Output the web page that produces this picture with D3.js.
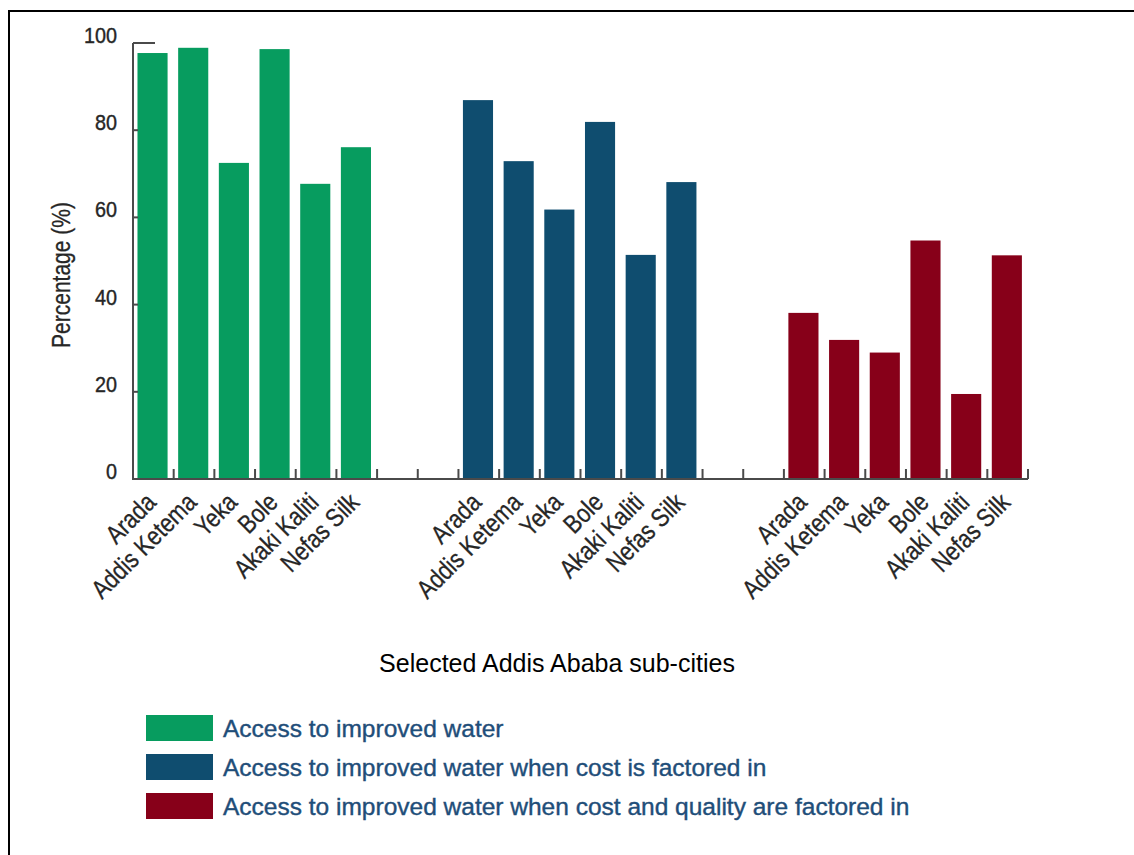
<!DOCTYPE html>
<html>
<head>
<meta charset="utf-8">
<script src="https://cdn.jsdelivr.net/npm/d3@7"></script>
<style>
  body { margin: 0; background: #fff; }
  text { font-family: 'Liberation Sans', Arial, sans-serif; }
</style>
</head>
<body>
<svg id="chart" width="1134" height="855"></svg>
<script>
// sub-cities shown in every group
var subCities = ['Arada', 'Addis Ketema', 'Yeka', 'Bole', 'Akaki Kaliti', 'Nefas Silk']
var seriesNames = [
  'Access to improved water',
  'Access to improved water when cost is factored in',
  'Access to improved water when cost and quality are factored in'
]
var improvedWater = [97.7, 98.9, 72.5, 98.6, 67.7, 76.1]
var withCost = [86.9, 72.9, 61.8, 81.9, 51.4, 68.1]
var withCostQuality = [38.1, 31.9, 29.0, 54.7, 19.5, 51.3]
var yTicks = [0, 20, 40, 60, 80, 100]
var colors = ['#079c5f', '#0f4d6f', '#870019']
var xTitle = 'Selected Addis Ababa sub-cities'
var yTitle = 'Percentage (%)'

var seriesValues = [improvedWater, withCost, withCostQuality]

var svg = d3.select('#chart')
var squeeze = 0.84  // no condensed font around, so squash the axis texts
var labelColor = '#262626'

// frame (right and bottom edges run off the picture)
svg.append('rect')
    .attr('x', 9).attr('y', 11)
    .attr('width', 1400).attr('height', 1000)
    .attr('fill', 'none')
    .attr('stroke', '#000')
    .attr('stroke-width', 2)

var plot = {left: 133, right: 1028, top: 43, bottom: 479}

// 22 slots: 6 bars, 2 empty, 6 bars, 2 empty, 6 bars
var slotsPerGroup = subCities.length + 2
var nSlots = seriesValues.length * slotsPerGroup - 2
var x = d3.scaleBand()
    .domain(d3.range(nSlots))
    .range([plot.left, plot.right])
    .padding(0)

var y = d3.scaleLinear()
    .domain([0, 100])
    .range([plot.bottom, plot.top])

// flatten into bar records
var bars = []
seriesValues.forEach(function(vals, s) {
  vals.forEach(function(v, i) {
    bars.push({series: s, city: subCities[i], value: v, slot: s * slotsPerGroup + i})
  })
})

var bw = x.bandwidth()
svg.append('g').selectAll('rect')
    .data(bars)
    .enter().append('rect')
    .attr('x', d => x(d.slot) + bw * 0.11)
    .attr('width', bw * 0.74)
    .attr('y', d => y(d.value))
    .attr('height', d => y(0) - y(d.value))
    .attr('fill', d => colors[d.series])

// axes
var axisColor = '#4a4a4a'
var ax = svg.append('g')
ax.append('line')
    .attr('x1', plot.left).attr('x2', plot.left)
    .attr('y1', y(100)).attr('y2', y(0))
    .attr('stroke', axisColor).attr('stroke-width', 2)
ax.append('line')
    .attr('x1', plot.left - 1).attr('x2', plot.right)
    .attr('y1', y(0)).attr('y2', y(0))
    .attr('stroke', axisColor).attr('stroke-width', 2)

ax.selectAll('.ytick')
    .data(yTicks)
    .enter().append('line')
    .attr('x1', plot.left)
    .attr('x2', d => (d === 0 || d === 100) ? plot.left + 22 : plot.left + 5)
    .attr('y1', d => y(d)).attr('y2', d => y(d))
    .attr('stroke', axisColor).attr('stroke-width', 2)

ax.selectAll('.ylab')
    .data(yTicks)
    .enter().append('text')
    .attr('transform', d => 'translate(' + (plot.left - 16) + ',' + y(d) + ') scale(0.9,1)')
    .attr('text-anchor', 'end')
    .attr('font-size', 22)
    .attr('fill', labelColor)
    .attr('stroke', labelColor).attr('stroke-width', 0.4)
    .text(d => d)

// x ticks at slot boundaries
ax.selectAll('.xtick')
    .data(d3.range(1, nSlots + 1))
    .enter().append('line')
    .attr('x1', d => plot.left + d * bw).attr('x2', d => plot.left + d * bw)
    .attr('y1', y(0)).attr('y2', y(0) - 10)
    .attr('stroke', axisColor).attr('stroke-width', 2)

svg.append('g').selectAll('text')
    .data(bars)
    .enter().append('text')
    .attr('transform', d => 'translate(' + (x(d.slot) + bw / 2 + 4) + ',' + (plot.bottom + 25) + ') rotate(-45) scale(' + squeeze + ',1)')
    .attr('text-anchor', 'end')
    .attr('font-size', 26)
    .attr('fill', labelColor)
    .attr('stroke', labelColor).attr('stroke-width', 0.3)
    .text(d => d.city)

// axis titles
svg.append('text')
    .attr('transform', 'translate(70,275) rotate(-90) scale(' + squeeze + ',1)')
    .attr('text-anchor', 'middle')
    .attr('font-size', 25)
    .attr('fill', labelColor)
    .attr('stroke', labelColor).attr('stroke-width', 0.3)
    .text(yTitle)

svg.append('text')
    .attr('x', 557).attr('y', 672)
    .attr('text-anchor', 'middle')
    .attr('font-size', 25)
    .attr('fill', '#000')
    .text(xTitle)

// legend
var legend = svg.append('g').attr('transform', 'translate(146,715)')
var items = legend.selectAll('g')
    .data(seriesNames)
    .enter().append('g')
    .attr('transform', (d, i) => 'translate(0,' + i * 39 + ')')
items.append('rect')
    .attr('width', 67).attr('height', 26)
    .attr('fill', (d, i) => colors[i])
items.append('text')
    .attr('x', 77).attr('y', 22)
    .attr('font-size', 24.5)
    .attr('fill', '#1f4e79')
    .attr('stroke', '#1f4e79').attr('stroke-width', 0.4)
    .text(d => d)
</script>
</body>
</html>
